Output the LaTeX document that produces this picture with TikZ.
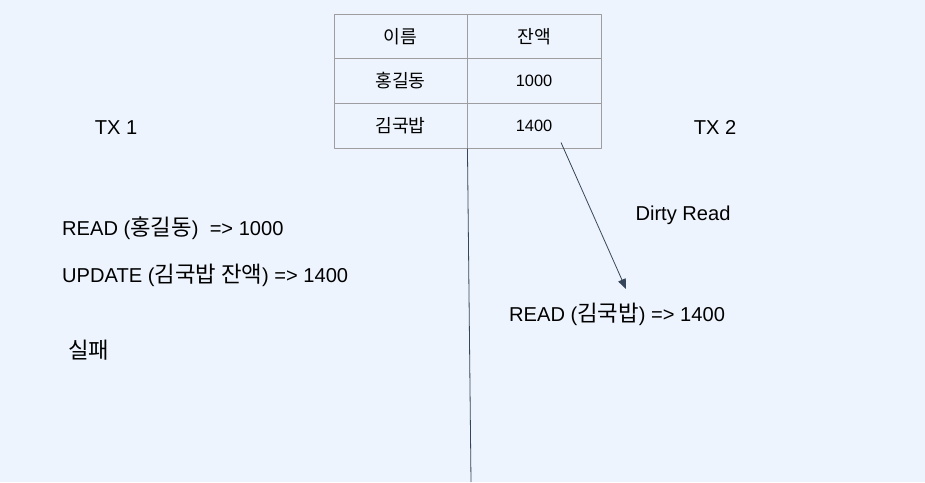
\documentclass[tikz,border=0pt]{standalone}
\usepackage{fontspec}
\setmainfont{Liberation Sans}
\newfontfamily\kr[Scale=1.11]{Noto Sans CJK KR}
\usetikzlibrary{arrows.meta}
\definecolor{bgblue}{RGB}{238,244,253}
\definecolor{cellgray}{RGB}{158,158,160}
\definecolor{linedark}{RGB}{54,70,90}
\begin{document}
\begin{tikzpicture}[x=1pt,y=-1pt,line join=round,>={Triangle[length=10pt,width=8pt]}]
        \tikzset{cell/.style={draw=cellgray,line width=0.9pt,minimum height=44.7pt,inner sep=0pt,font=\fontsize{16.4}{19}\selectfont},
                 lbl/.style={inner sep=0pt,font=\fontsize{20.1}{23}\selectfont},
                 link/.style={draw=linedark,line width=0.8pt}}
        \fill[bgblue] (0,0) rectangle (925,482);
        \useasboundingbox (0,0) rectangle (925,482);
        % table
        \node[cell,minimum width=133pt] (h1) at (400.5,36.3) {\kr 이름};
        \node[cell,minimum width=134pt] (h2) at (534,36.3) {\kr 잔액};
        \node[cell,minimum width=133pt] (n1) at (400.5,81) {\kr 홍길동};
        \node[cell,minimum width=134pt] (v1) at (534,81) {1000};
        \node[cell,minimum width=133pt] (n2) at (400.5,125.7) {\kr 김국밥};
        \node[cell,minimum width=134pt] (v2) at (534,125.7) {1400};
        % labels
        \node[lbl] (tx1) at (116,127.5) {TX 1};
        \node[lbl] (tx2) at (715,127.5) {TX 2};
        \node[lbl] (dirty) at (683,215.5) {Dirty Read};
        \node[lbl,anchor=west] (read1) at (62,228.5) {READ ({\kr 홍길동})\ \ => 1000};
        \node[lbl,anchor=west] (upd) at (62,275.5) {UPDATE ({\kr 김국밥 잔액}) => 1400};
        \node[lbl,anchor=west] (fail) at (68,350.5) {\kr 실패};
        \node[lbl,anchor=west] (read2) at (509,314.5) {READ ({\kr 김국밥}) => 1400};
        % connectors
        \coordinate (tl) at (471,482);
        \coordinate (hit) at (626,289);
        \draw[link] (n2.south east) -- (tl);
        \draw[link,->] ([shift={(27,-6)}]v2.south) -- (hit);
\end{tikzpicture}
\end{document}
